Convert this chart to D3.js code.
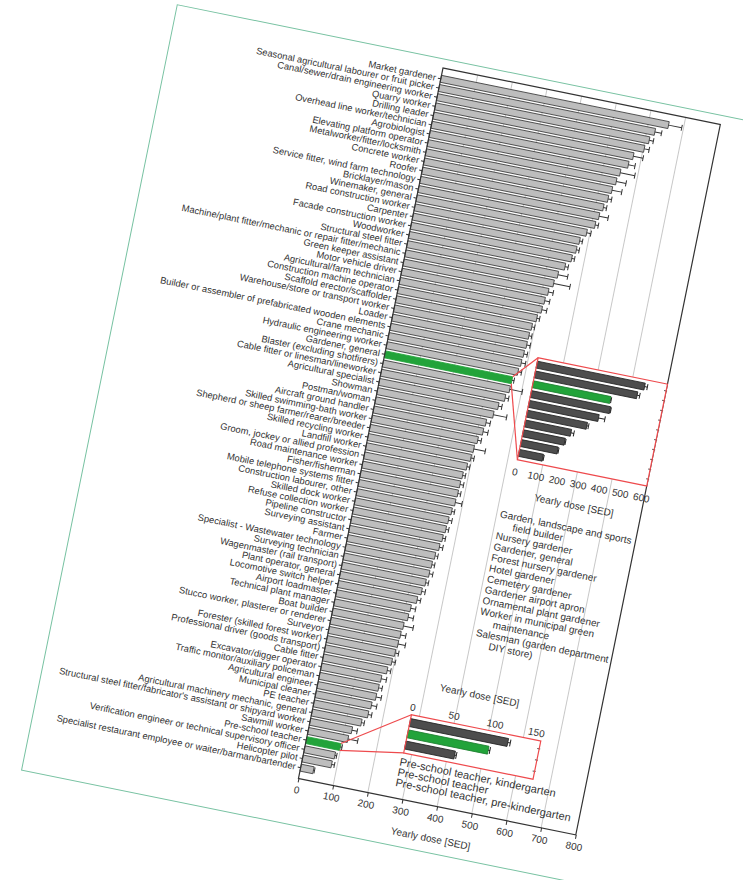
<!DOCTYPE html>
<html>
<head>
<meta charset="utf-8">
<script src="https://cdn.jsdelivr.net/npm/d3@7"></script>
<style>
  html, body { margin: 0; padding: 0; background: #fff; }
  svg { display: block; font-family: "Liberation Sans", Arial, sans-serif; }
</style>
</head>
<body>
<div id="chart"></div>
<script>
// ========================
// Data
// ========================
const occupations = [
    "Market gardener",
    "Seasonal agricultural labourer or fruit picker",
    "Canal/sewer/drain engineering worker",
    "Quarry worker",
    "Drilling leader",
    "Overhead line worker/technician",
    "Agrobiologist",
    "Elevating platform operator",
    "Metalworker/fitter/locksmith",
    "Concrete worker",
    "Roofer",
    "Service fitter, wind farm technology",
    "Bricklayer/mason",
    "Winemaker, general",
    "Road construction worker",
    "Carpenter",
    "Facade construction worker",
    "Woodworker",
    "Structural steel fitter",
    "Machine/plant fitter/mechanic or repair fitter/mechanic",
    "Green keeper assistant",
    "Motor vehicle driver",
    "Agricultural/farm technician",
    "Construction machine operator",
    "Scaffold erector/scaffolder",
    "Warehouse/store or transport worker",
    "Loader",
    "Builder or assembler of prefabricated wooden elements",
    "Crane mechanic",
    "Hydraulic engineering worker",
    "Gardener, general",
    "Blaster (excluding shotfirers)",
    "Cable fitter or linesman/lineworker",
    "Agricultural specialist",
    "Showman",
    "Postman/woman",
    "Aircraft ground handler",
    "Skilled swimming-bath worker",
    "Shepherd or sheep farmer/rearer/breeder",
    "Skilled recycling worker",
    "Landfill worker",
    "Groom, jockey or allied profession",
    "Road maintenance worker",
    "Fisher/fisherman",
    "Mobile telephone systems fitter",
    "Construction labourer, other",
    "Skilled dock worker",
    "Refuse collection worker",
    "Pipeline constructor",
    "Surveying assistant",
    "Farmer",
    "Specialist - Wastewater technology",
    "Surveying technician",
    "Wagenmaster (rail transport)",
    "Plant operator, general",
    "Locomotive switch helper",
    "Airport loadmaster",
    "Technical plant manager",
    "Boat builder",
    "Stucco worker, plasterer or renderer",
    "Surveyor",
    "Forester (skilled forest worker)",
    "Professional driver (goods transport)",
    "Cable fitter",
    "Excavator/digger operator",
    "Traffic monitor/auxiliary policeman",
    "Agricultural engineer",
    "Municipal cleaner",
    "PE teacher",
    "Agricultural machinery mechanic, general",
    "Structural steel fitter/fabricator's assistant or shipyard worker",
    "Sawmill worker",
    "Pre-school teacher",
    "Verification engineer or technical supervisory officer",
    "Helicopter pilot",
    "Specialist restaurant employee or waiter/barman/bartender"
];

const doses = [
    657, 623, 612, 603, 577, 568, 550, 544, 537, 531,
    523, 516, 510, 491, 476, 472, 464, 450, 435, 428,
    418, 413, 410, 401, 392, 389, 388, 385, 383, 379,
    367, 366, 358, 344, 335, 319, 316, 306, 300, 297,
    291, 284, 282, 281, 279, 274, 270, 268, 264, 260,
    253, 249, 247, 242, 236, 228, 215, 213, 205, 202,
    200, 197, 193, 185, 173, 171, 169, 161, 157, 143,
    121, 115, 98, 88, 84, 37
];

const doseErrors = [
    38, 19, 12, 14, 28, 19, 42, 28, 28, 10,
    9, 26, 9, 12, 8, 8, 8, 9, 28, 47,
    14, 14, 14, 8, 8, 8, 10, 10, 12, 10,
    6, 36, 10, 10, 38, 12, 14, 10, 33, 9,
    8, 8, 10, 8, 19, 8, 10, 8, 8, 10,
    8, 8, 10, 8, 10, 10, 14, 15, 28, 15,
    21, 10, 10, 10, 15, 10, 15, 15, 10, 8,
    15, 28, 5, 5, 8, 3
];

const doseTicks = [0, 100, 200, 300, 400, 500, 600, 700, 800];

const highlighted = ["Gardener, general", "Pre-school teacher"];

// Gardener inset
const gardenJobs = [
    "Garden, landscape and sports field builder",
    "Nursery gardener",
    "Gardener, general",
    "Forest nursery gardener",
    "Hotel gardener",
    "Cemetery gardener",
    "Gardener airport apron",
    "Ornamental plant gardener",
    "Worker in municipal green maintenance",
    "Salesman (garden department DIY store)"
];
const gardenDoses = [512, 486, 368, 376, 331, 285, 219, 199, 175, 114];
const gardenErrors = [13, 12, 4, 4, 30, 8, 14, 4, 4, 4];
const gardenTicks = [0, 100, 200, 300, 400, 500, 600];
const gardenLegend = [
    ["Garden, landscape and sports", 0],
    ["field builder", 15],
    ["Nursery gardener", 0],
    ["Gardener, general", 0],
    ["Forest nursery gardener", 0],
    ["Hotel gardener", 0],
    ["Cemetery gardener", 0],
    ["Gardener airport apron", 0],
    ["Ornamental plant gardener", 0],
    ["Worker in municipal green", 0],
    ["maintenance", 15],
    ["Salesman (garden department", 0],
    ["DIY store)", 15]
];

// Pre-school inset
const preschoolJobs = [
    "Pre-school teacher, kindergarten",
    "Pre-school teacher",
    "Pre-school teacher, pre-kindergarten"
];
const preschoolDoses = [119, 98, 60];
const preschoolErrors = [3, 2, 2];
const preschoolTicks = [0, 50, 100, 150];

// ========================
// Setup
// ========================
const width = 743;
const height = 880;
const plotW = 283;
const plotH = 725;

const barFill = "#bdbdbd";
const darkFill = "#4d4d4d";
const green = "#22a33a";
const red = "#ee4a4d";
const ink = "#333";

const svg = d3.select("#chart")
    .append("svg")
    .attr("width", width)
    .attr("height", height);

svg.append("rect")
    .attr("width", width)
    .attr("height", height)
    .attr("fill", "#fff");

// the whole printed page is tilted
const page = svg.append("g")
    .attr("transform", "translate(443,68) rotate(11.5)");

page.append("rect")
    .attr("x", -273)
    .attr("y", -9)
    .attr("width", 800)
    .attr("height", 781)
    .attr("fill", "#fff")
    .attr("stroke", "#78c2a2")
    .attr("stroke-width", 1);

// ========================
// Main chart
// ========================
const x = d3.scaleLinear().domain([0, 800]).range([0, plotW]);
const y = d3.scaleBand()
    .domain(occupations)
    .range([0, plotH])
    .paddingInner(0.25)
    .paddingOuter(0.8);

const rows = occupations.map((name, i) => ({ name, value: doses[i], err: doseErrors[i] }));

// gridlines
page.append("g")
    .selectAll("line")
    .data(doseTicks.slice(1, -1))
    .join("line")
    .attr("x1", d => x(d))
    .attr("x2", d => x(d))
    .attr("y1", 0)
    .attr("y2", plotH)
    .attr("stroke", "#c8c8c8")
    .attr("stroke-width", 1);

// bars
page.append("g")
    .selectAll("rect")
    .data(rows)
    .join("rect")
    .attr("x", 0)
    .attr("y", d => y(d.name))
    .attr("width", d => x(d.value))
    .attr("height", y.bandwidth())
    .attr("fill", d => highlighted.includes(d.name) ? green : barFill)
    .attr("stroke", d => highlighted.includes(d.name) ? green : "#3a3a3a")
    .attr("stroke-width", 0.8);

// error bars
const errG = page.append("g")
    .attr("stroke", ink)
    .attr("stroke-width", 1);

errG.selectAll("line.err")
    .data(rows)
    .join("line")
    .attr("class", "err")
    .attr("x1", d => x(d.value))
    .attr("x2", d => x(d.value + d.err))
    .attr("y1", d => y(d.name) + y.bandwidth() / 2)
    .attr("y2", d => y(d.name) + y.bandwidth() / 2);

errG.selectAll("line.cap")
    .data(rows)
    .join("line")
    .attr("class", "cap")
    .attr("x1", d => x(d.value + d.err))
    .attr("x2", d => x(d.value + d.err))
    .attr("y1", d => y(d.name) + 0.5)
    .attr("y2", d => y(d.name) + y.bandwidth() - 0.5);

// frame
page.append("rect")
    .attr("width", plotW)
    .attr("height", plotH)
    .attr("fill", "none")
    .attr("stroke", ink)
    .attr("stroke-width", 1.2);

// axes
const yAxis = page.append("g")
    .call(d3.axisLeft(y).tickSize(3).tickPadding(2));
yAxis.select(".domain").remove();
yAxis.selectAll("text")
    .attr("font-size", 9.4)
    .attr("font-family", "'Liberation Sans', Arial, sans-serif")
    .attr("fill", ink);
yAxis.selectAll("line").attr("stroke", ink);

const xAxis = page.append("g")
    .attr("transform", `translate(0,${plotH})`)
    .call(d3.axisBottom(x).tickValues(doseTicks).tickSize(4).tickPadding(4));
xAxis.select(".domain").remove();
xAxis.selectAll("text")
    .attr("font-size", 10)
    .attr("font-family", "'Liberation Sans', Arial, sans-serif")
    .attr("fill", ink);
xAxis.selectAll("line").attr("stroke", ink);

page.append("text")
    .attr("x", plotW / 2)
    .attr("y", plotH + 36)
    .attr("text-anchor", "middle")
    .attr("font-size", 10)
    .attr("fill", ink)
    .text("Yearly dose [SED]");

// ========================
// Inset helper
// ========================
function drawInset(cfg) {
    const g = page.append("g");
    const sx = d3.scaleLinear().domain(cfg.domain).range([cfg.x0, cfg.x1]);
    const sy = d3.scaleBand()
        .domain(cfg.jobs)
        .range([cfg.top, cfg.bottom])
        .paddingInner(0.3)
        .paddingOuter(0.35);

    // connectors from the highlighted main bar
    const src = cfg.source;
    const bx = x(doses[occupations.indexOf(src)]);
    const by = y(src);
    g.append("line")
        .attr("x1", bx).attr("y1", by)
        .attr("x2", cfg.boxLeft).attr("y2", cfg.top)
        .attr("stroke", red).attr("stroke-width", 1.2);
    g.append("line")
        .attr("x1", bx).attr("y1", by + y.bandwidth())
        .attr("x2", cfg.boxLeft).attr("y2", cfg.bottom)
        .attr("stroke", red).attr("stroke-width", 1.2);

    g.append("rect")
        .attr("x", cfg.boxLeft)
        .attr("y", cfg.top)
        .attr("width", cfg.boxRight - cfg.boxLeft)
        .attr("height", cfg.bottom - cfg.top)
        .attr("fill", "#fff");

    const data = cfg.jobs.map((name, i) => ({ name, value: cfg.values[i], err: cfg.errors[i] }));

    g.append("g")
        .selectAll("rect")
        .data(data)
        .join("rect")
        .attr("x", cfg.x0)
        .attr("y", d => sy(d.name))
        .attr("width", d => sx(d.value) - cfg.x0)
        .attr("height", sy.bandwidth())
        .attr("fill", d => d.name === src ? green : darkFill)
        .attr("stroke", d => d.name === src ? "#1d7f30" : "#222")
        .attr("stroke-width", 0.8);

    const eg = g.append("g").attr("stroke", "#222").attr("stroke-width", 1);
    eg.selectAll("line.err")
        .data(data)
        .join("line")
        .attr("class", "err")
        .attr("x1", d => sx(d.value))
        .attr("x2", d => sx(d.value + d.err))
        .attr("y1", d => sy(d.name) + sy.bandwidth() / 2)
        .attr("y2", d => sy(d.name) + sy.bandwidth() / 2);
    eg.selectAll("line.cap")
        .data(data)
        .join("line")
        .attr("class", "cap")
        .attr("x1", d => sx(d.value + d.err))
        .attr("x2", d => sx(d.value + d.err))
        .attr("y1", d => sy(d.name) + 0.5)
        .attr("y2", d => sy(d.name) + sy.bandwidth() - 0.5);

    // small ticks on the right edge
    g.append("g")
        .selectAll("line")
        .data(data)
        .join("line")
        .attr("x1", cfg.boxRight - 2)
        .attr("x2", cfg.boxRight + 1)
        .attr("y1", d => sy(d.name) + sy.bandwidth() / 2)
        .attr("y2", d => sy(d.name) + sy.bandwidth() / 2)
        .attr("stroke", "#555")
        .attr("stroke-width", 1);

    g.append("rect")
        .attr("x", cfg.boxLeft)
        .attr("y", cfg.top)
        .attr("width", cfg.boxRight - cfg.boxLeft)
        .attr("height", cfg.bottom - cfg.top)
        .attr("fill", "none")
        .attr("stroke", red)
        .attr("stroke-width", 1.2);

    g.append("g")
        .selectAll("text")
        .data(cfg.ticks)
        .join("text")
        .attr("x", d => sx(d))
        .attr("y", cfg.tickY)
        .attr("text-anchor", "middle")
        .attr("font-size", 10)
        .attr("fill", ink)
        .text(d => d);

    g.append("text")
        .attr("x", (cfg.x0 + cfg.x1) / 2)
        .attr("y", cfg.titleY)
        .attr("text-anchor", "middle")
        .attr("font-size", 10)
        .attr("fill", ink)
        .text("Yearly dose [SED]");

    return g;
}

// ========================
// Gardener inset
// ========================
const gardenG = drawInset({
    source: "Gardener, general",
    jobs: gardenJobs,
    values: gardenDoses,
    errors: gardenErrors,
    ticks: gardenTicks,
    domain: [0, 600],
    x0: 151, x1: 280,
    boxLeft: 151, boxRight: 283,
    top: 265, bottom: 369,
    tickY: 385,
    titleY: 406
});

gardenG.append("g")
    .selectAll("text")
    .data(gardenLegend)
    .join("text")
    .attr("x", d => 145 + d[1])
    .attr("y", (d, i) => 429 + i * 11)
    .attr("font-size", 10)
    .attr("fill", ink)
    .text(d => d[0]);

// ========================
// Pre-school inset
// ========================
const preG = drawInset({
    source: "Pre-school teacher",
    jobs: preschoolJobs,
    values: preschoolDoses,
    errors: preschoolErrors,
    ticks: preschoolTicks,
    domain: [0, 150],
    x0: 98, x1: 224,
    boxLeft: 98, boxRight: 230,
    top: 640, bottom: 679,
    tickY: 636,
    titleY: 611
});

preG.append("g")
    .selectAll("text")
    .data(preschoolJobs)
    .join("text")
    .attr("x", 96)
    .attr("y", (d, i) => 692 + i * 10.5)
    .attr("font-size", 11)
    .attr("fill", ink)
    .text(d => d);
</script>
</body>
</html>
